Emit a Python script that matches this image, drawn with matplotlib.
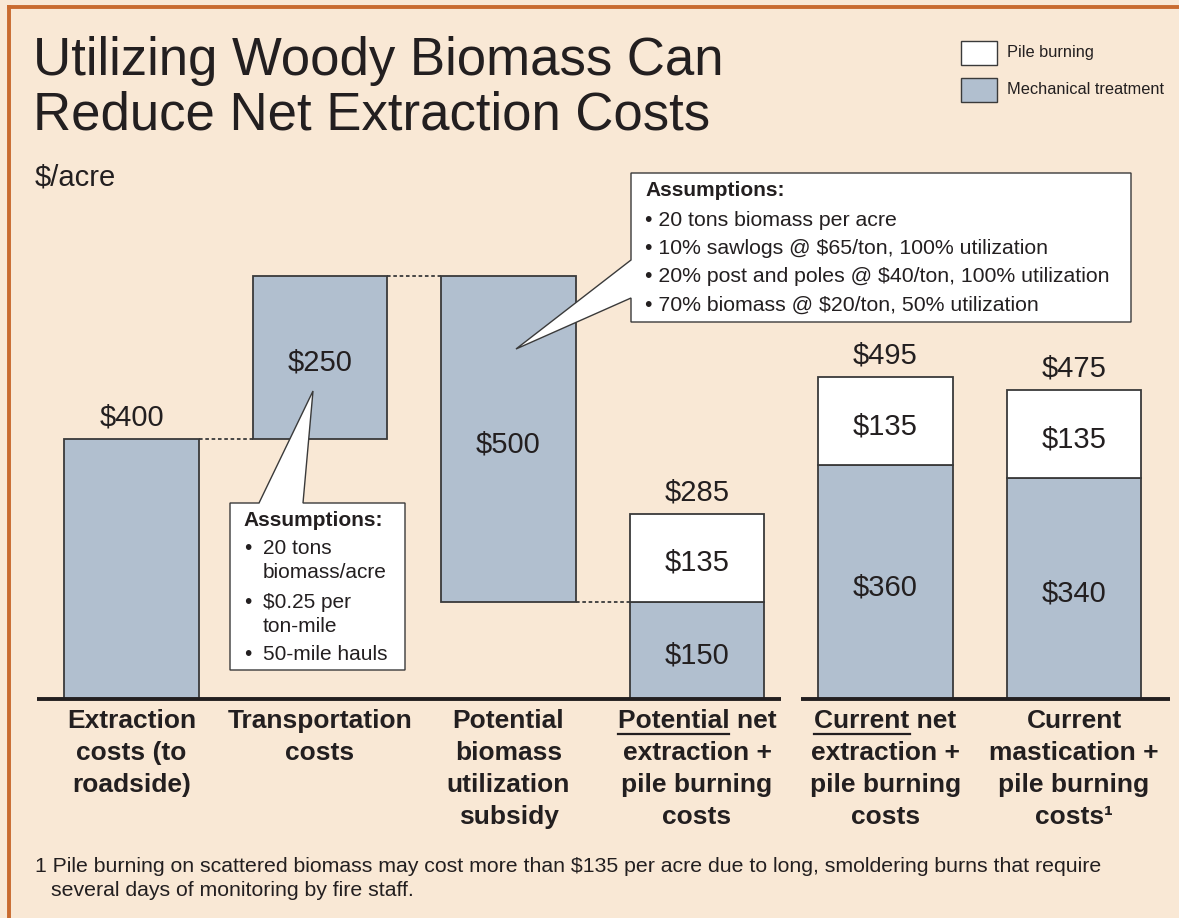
import matplotlib

matplotlib.use("Agg")

import matplotlib.pyplot as plt
import matplotlib.transforms as mtransforms
import numpy as np
from matplotlib.patches import Polygon, Rectangle

plt.rcParams["font.family"] = ["Liberation Sans", "DejaVu Sans"]

W, H = 1179, 918
BG = "#F9E8D5"
BORDER = "#C96B2F"
MECH = "#B1BFCF"
EDGE = "#3A3A3A"
INK = "#231F20"

# data
categories = [
    "Extraction\ncosts (to\nroadside)",
    "Transportation\ncosts",
    "Potential\nbiomass\nutilization\nsubsidy",
    "Potential net\nextraction +\npile burning\ncosts",
    "Current net\nextraction +\npile burning\ncosts",
    "Current\nmastication +\npile burning\ncosts\u00b9",
]
underlined = [None, None, None, "Potential", "Current", None]
waterfall_steps = [400, 250, -500]          # extraction, transport, subsidy
mech_values = [400, 250, 500, 150, 360, 340]
pile_values = [0, 0, 0, 135, 135, 135]
legend_labels = ["Pile burning", "Mechanical treatment"]

box1_lines = [
    "\u2022 20 tons biomass per acre",
    "\u2022 10% sawlogs @ $65/ton, 100% utilization",
    "\u2022 20% post and poles @ $40/ton, 100% utilization",
    "\u2022 70% biomass @ $20/ton, 50% utilization",
]
box2_lines = [
    ("\u2022", "20 tons"), ("", "biomass/acre"),
    ("\u2022", "$0.25 per"), ("", "ton-mile"),
    ("\u2022", "50-mile hauls"),
]
footnote = [
    "1 Pile burning on scattered biomass may cost more than $135 per acre due to long, smoldering burns that require",
    "several days of monitoring by fire staff.",
]

# waterfall bottoms for the first three bars
levels = np.cumsum(waterfall_steps)
mech_bottoms = np.zeros(len(mech_values))
mech_bottoms[1] = levels[0]
mech_bottoms[2] = levels[2]
mech_tops = mech_bottoms + np.array(mech_values)


def fx(px):
    return px / W


def fy(py):
    return 1 - py / H


fig = plt.figure(figsize=(W / 100, H / 100), dpi=100, facecolor=BG)
ax = fig.add_axes([0, 0, 1, 1])
ax.set_xlim(-131.5 / 188.5, (W - 131.5) / 188.5)
ax.set_ylim(-(H - 699) / 0.65, 699 / 0.65)
ax.axis("off")

x = np.arange(len(categories))
width = 0.716
ax.bar(x, mech_values, width, bottom=mech_bottoms, color=MECH, edgecolor=EDGE, linewidth=1.3, zorder=2)
has_pile = np.array(pile_values) > 0
ax.bar(x[has_pile], np.array(pile_values)[has_pile], width, bottom=mech_tops[has_pile],
       color="white", edgecolor=EDGE, linewidth=1.3, zorder=2)

# dashed connectors
for i, lvl in enumerate(levels):
    ax.plot([i + width / 2, i + 1 - width / 2], [lvl, lvl], color=EDGE, linewidth=1.3,
            linestyle=(0, (2, 1.5)), zorder=1)

# baselines
ax.plot([-0.5, 3.446], [0, 0], color=INK, linewidth=2.8, solid_capstyle="butt", zorder=3)
ax.plot([3.552, 5.509], [0, 0], color=INK, linewidth=2.8, solid_capstyle="butt", zorder=3)

# value labels
for i in x:
    total = mech_values[i] + pile_values[i]
    if mech_bottoms[i] == 0:
        ax.text(i, mech_tops[i] + pile_values[i] + 33, f"${total}", ha="center", va="center",
                fontsize=21, color=INK)
    if mech_bottoms[i] > 0 or pile_values[i] > 0:
        ax.text(i, mech_bottoms[i] + mech_values[i] / 2 - 8, f"${mech_values[i]}", ha="center",
                va="center", fontsize=21, color=INK, zorder=4)
    if pile_values[i] > 0:
        ax.text(i, mech_tops[i] + pile_values[i] / 2 - 8, f"${pile_values[i]}", ha="center",
                va="center", fontsize=21, color=INK, zorder=4)

# category labels
blend = mtransforms.blended_transform_factory(ax.transData, fig.transFigure)
renderer = fig.canvas.get_renderer()
for i, label in enumerate(categories):
    for k, line in enumerate(label.split("\n")):
        t = ax.text(i, fy(721 + 32 * k), line, transform=blend, ha="center", va="center",
                    fontsize=19, fontweight="bold", color=INK)
        if k == 0 and underlined[i]:
            bb = t.get_window_extent(renderer)
            probe = fig.text(0, 0, underlined[i], fontsize=19, fontweight="bold")
            wb = probe.get_window_extent(renderer)
            probe.remove()
            y_line = fy(734)
            fig.add_artist(plt.Line2D([bb.x0 / W, (bb.x0 + wb.width) / W], [y_line, y_line],
                                      color=INK, linewidth=1.6, transform=fig.transFigure))

# title
fig.text(fx(33), fy(75), "Utilizing Woody Biomass Can", fontsize=38, color=INK, va="baseline")
fig.text(fx(33), fy(130), "Reduce Net Extraction Costs", fontsize=38, color=INK, va="baseline")
fig.text(fx(35), fy(185), "$/acre", fontsize=21, color=INK, va="baseline")

# legend
for k, (lab, col) in enumerate(zip(legend_labels, ["white", MECH])):
    top = 41 + 37 * k
    fig.add_artist(Rectangle((fx(961), fy(top + 24)), 36 / W, 24 / H, transform=fig.transFigure,
                             facecolor=col, edgecolor=EDGE, linewidth=1.0))
    fig.text(fx(1007), fy(top + 12), lab, fontsize=11.8, color=INK, va="center")

# callout 1 (subsidy assumptions)
poly1 = [(631, 173), (1131, 173), (1131, 322), (631, 322), (631, 298), (516, 349), (631, 260)]
fig.add_artist(Polygon([(fx(a), fy(b)) for a, b in poly1], closed=True, transform=fig.transFigure,
                       facecolor="white", edgecolor=EDGE, linewidth=1.0, zorder=5))
fig.text(fx(645), fy(191), "Assumptions:", fontsize=15, fontweight="bold", color=INK, va="center", zorder=6)
for k, line in enumerate(box1_lines):
    fig.text(fx(645), fy(220 + 28.5 * k), line, fontsize=15.3, color=INK, va="center", zorder=6)

# callout 2 (transport assumptions)
poly2 = [(230, 503), (259, 503), (313, 391), (303, 503), (405, 503), (405, 670), (230, 670)]
fig.add_artist(Polygon([(fx(a), fy(b)) for a, b in poly2], closed=True, transform=fig.transFigure,
                       facecolor="white", edgecolor=EDGE, linewidth=1.0, zorder=5))
fig.text(fx(243), fy(521), "Assumptions:", fontsize=15, fontweight="bold", color=INK, va="center", zorder=6)
for (bullet, line), yy in zip(box2_lines, [549, 573, 602, 626, 654]):
    if bullet:
        fig.text(fx(244), fy(yy), bullet, fontsize=15, color=INK, va="center", zorder=6)
    fig.text(fx(263), fy(yy), line, fontsize=15, color=INK, va="center", zorder=6)

# footnote
fig.text(fx(35), fy(867), footnote[0], fontsize=15.3, color=INK, va="center")
fig.text(fx(51), fy(891), footnote[1], fontsize=15.3, color=INK, va="center")

# frame
fig.add_artist(plt.Line2D([fx(7), 1], [fy(6.5), fy(6.5)], color=BORDER, linewidth=2.8,
                          transform=fig.transFigure, solid_capstyle="butt"))
fig.add_artist(plt.Line2D([fx(8.5), fx(8.5)], [fy(5), 0], color=BORDER, linewidth=2.8,
                          transform=fig.transFigure, solid_capstyle="butt"))

fig.savefig("out.png", dpi=100, facecolor=BG)
plt.close(fig)
